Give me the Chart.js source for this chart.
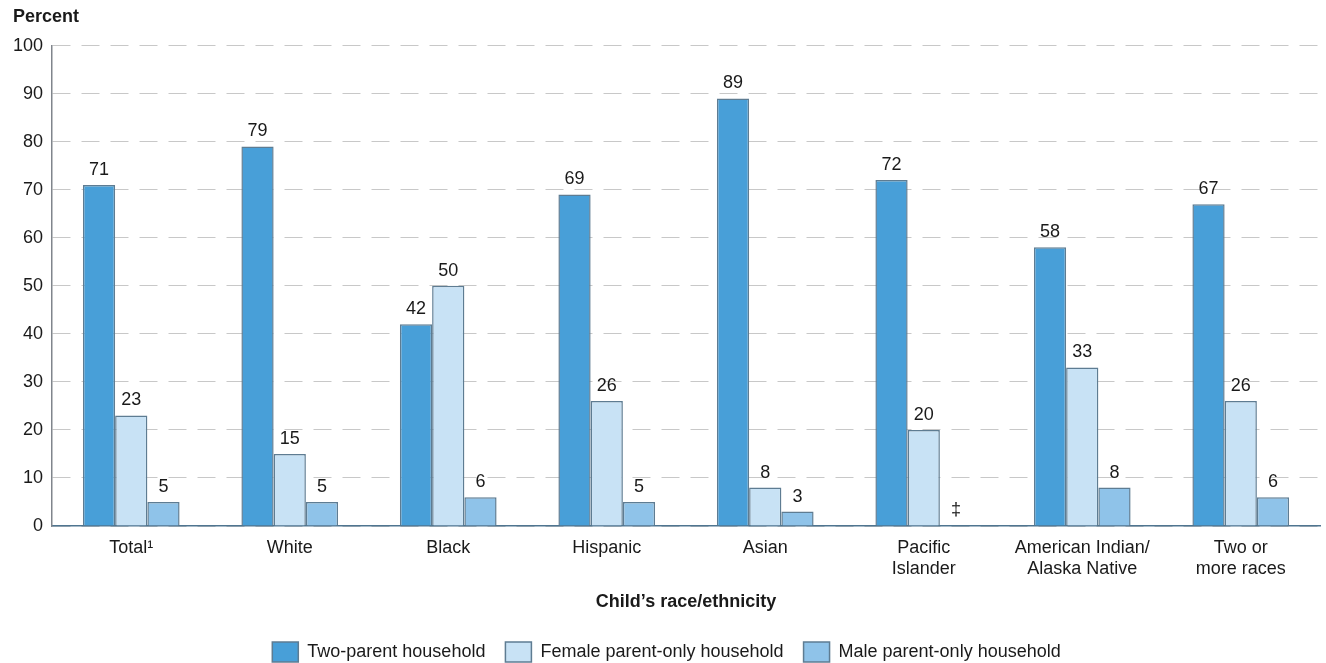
<!DOCTYPE html>
<html lang="en">
<head>
    <meta charset="UTF-8">
    <title>Children by household type and race/ethnicity</title>
    <script src="https://cdn.jsdelivr.net/npm/chart.js"></script>
    <style>
        html, body { margin: 0; padding: 0; background: #fff; }
        #wrap { width: 1326px; height: 663px; }
    </style>
</head>
<body>
    <div id="wrap"><canvas id="householdChart"></canvas></div>
    <script>
        // categories (x axis)
        const categories = [
            'Total\u00b9', 'White', 'Black', 'Hispanic', 'Asian',
            ['Pacific', 'Islander'], ['American Indian/', 'Alaska Native'], ['Two or', 'more races']
        ];

        // percent of children, by household type
        const twoParent = [71, 79, 42, 69, 89, 72, 58, 67];
        const femaleOnly = [23, 15, 50, 26, 8, 20, 33, 26];
        const maleOnly = [5, 5, 6, 5, 3, null, 8, 6];   // null = reporting standards not met

        // text printed above the bars
        const twoParentLabels = ['71', '79', '42', '69', '89', '72', '58', '67'];
        const femaleOnlyLabels = ['23', '15', '50', '26', '8', '20', '33', '26'];
        const maleOnlyLabels = ['5', '5', '6', '5', '3', '\u2021', '8', '6'];

        const yTicks = [0, 10, 20, 30, 40, 50, 60, 70, 80, 90, 100];

        const FONT = "'Liberation Sans', Arial, sans-serif";
        const BORDER = '#5e7c92';

        // draws value labels over each bar (and the double dagger at the base for missing data)
        const barLabels = {
            id: 'barLabels',
            afterDatasetsDraw(chart) {
                const ctx = chart.ctx;
                const yScale = chart.scales.y;
                ctx.save();
                ctx.font = '18px ' + FONT;
                ctx.fillStyle = '#1a1a1a';
                ctx.textAlign = 'center';
                ctx.textBaseline = 'bottom';
                chart.data.datasets.forEach((ds, i) => {
                    const meta = chart.getDatasetMeta(i);
                    meta.data.forEach((bar, j) => {
                        const text = ds.valueLabels[j];
                        const x = bar.x;
                        if (ds.data[j] === null) {
                            ctx.fillText(text, x, yScale.getPixelForValue(0) - 7);
                        } else {
                            ctx.fillText(text, x, bar.y - 6);
                        }
                    });
                });
                ctx.restore();
            }
        };

        const ctx = document.getElementById('householdChart').getContext('2d');

        const data = {
            labels: categories,
            datasets: [
                {
                    label: 'Two-parent household',
                    data: twoParent,
                    valueLabels: twoParentLabels,
                    backgroundColor: '#489fd8',
                    borderColor: BORDER,
                    borderWidth: 1.5
                },
                {
                    label: 'Female parent-only household',
                    data: femaleOnly,
                    valueLabels: femaleOnlyLabels,
                    backgroundColor: '#c8e2f5',
                    borderColor: BORDER,
                    borderWidth: 1.5
                },
                {
                    label: 'Male parent-only household',
                    data: maleOnly,
                    valueLabels: maleOnlyLabels,
                    backgroundColor: '#8fc3e9',
                    borderColor: BORDER,
                    borderWidth: 1.5
                }
            ]
        };

        const config = {
            type: 'bar',
            data: data,
            plugins: [barLabels],
            options: {
                responsive: true,
                maintainAspectRatio: false,
                animation: false,
                layout: {
                    padding: { left: 13, right: 6, top: 0, bottom: -9 }
                },
                datasets: {
                    bar: {
                        barPercentage: 1.0,
                        categoryPercentage: 0.61
                    }
                },
                plugins: {
                    title: {
                        display: true,
                        text: 'Percent',
                        align: 'start',
                        color: '#1a1a1a',
                        font: { family: FONT, size: 18, weight: 'bold' },
                        padding: { top: 6, bottom: 18 }
                    },
                    legend: {
                        position: 'bottom',
                        labels: {
                            color: '#1a1a1a',
                            font: { family: FONT, size: 18 },
                            boxWidth: 26,
                            boxHeight: 20,
                            padding: 20
                        }
                    },
                    tooltip: { enabled: false }
                },
                scales: {
                    x: {
                        grid: { display: false, drawTicks: false },
                        border: { color: '#4f7590', width: 1.5 },
                        ticks: {
                            color: '#1a1a1a',
                            font: { family: FONT, size: 18, lineHeight: 1.15 },
                            padding: 12,
                            maxRotation: 0,
                            autoSkip: false
                        },
                        title: {
                            display: true,
                            text: 'Child\u2019s race/ethnicity',
                            color: '#1a1a1a',
                            font: { family: FONT, size: 18, weight: 'bold' },
                            padding: { top: 0, bottom: 9 }
                        }
                    },
                    y: {
                        min: 0,
                        max: 100,
                        afterBuildTicks(scale) {
                            scale.ticks = yTicks.map(v => ({ value: v }));
                        },
                        afterFit(scale) {
                            scale.width = 39;
                        },
                        grid: {
                            color: '#c8c8c8',
                            lineWidth: 1,
                            drawTicks: false
                        },
                        border: { color: '#80858c', width: 1.5, dash: [18, 11] },
                        ticks: {
                            color: '#1a1a1a',
                            font: { family: FONT, size: 18 },
                            padding: 9
                        }
                    }
                }
            }
        };

        const householdChart = new Chart(ctx, config);
    </script>
</body>
</html>
